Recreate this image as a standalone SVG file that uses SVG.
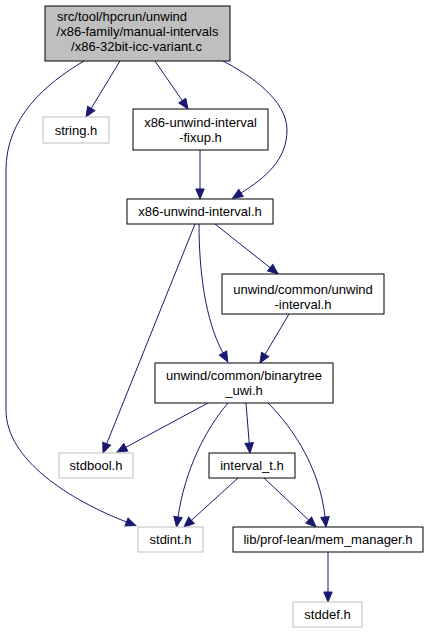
<svg xmlns="http://www.w3.org/2000/svg" width="429" height="633" viewBox="0 0 429 633">
<defs>
<marker id="ah" markerUnits="userSpaceOnUse" markerWidth="12" markerHeight="12" refX="0" refY="6" orient="auto" overflow="visible">
<path d="M0,1.8 L10,6 L0,10.2 Z" fill="#191970" stroke="#191970" stroke-width="1"/>
</marker>
<style>
.n rect{fill:#ffffff;stroke:#000000;stroke-width:1}
.g rect{fill:#ffffff;stroke:#bfbfbf;stroke-width:1}
.root rect{fill:#bfbfbf;stroke:#000000;stroke-width:1}
text{font-family:"Liberation Sans",Arial,sans-serif;font-size:13px;fill:#000000;text-anchor:middle}
#edges path{fill:none;stroke:#191970;stroke-width:1;marker-end:url(#ah)}
</style>
</defs>
<rect width="429" height="633" fill="#ffffff"/>
<g id="edges">
<path d="M84,61 C45,84 6,118 6,170 L6,410 C6,460 70,500 126.5,522"/>
<path d="M120,61 L91.2,108.4"/>
<path d="M155,61 L182.3,100.7"/>
<path d="M223,61 C250,75 287,100 287,130 C287,160 265,178 241,193"/>
<path d="M200,150 L200,189"/>
<path d="M215,224 L270.2,267.8"/>
<path d="M199,224 C199,270 205,320 223,353"/>
<path d="M195,224 L106.7,443.7"/>
<path d="M289,314 L265.1,354.4"/>
<path d="M208,403 L125.8,447.3"/>
<path d="M228,403 C205,430 185,470 178,517"/>
<path d="M246,403 L249.2,443"/>
<path d="M268,403 C295,430 320,470 325,517"/>
<path d="M238,478 L191.4,520.3"/>
<path d="M264,478 L308.7,520.1"/>
<path d="M328,552 L328,592"/>
</g>
<g id="node_root" class="root">
<rect x="45" y="6" width="185" height="55"/>
<text x="122" y="21">src/tool/hpcrun/unwind</text>
<text x="137.5" y="36">/x86-family/manual-intervals</text>
<text x="136.5" y="51">/x86-32bit-icc-variant.c</text>
</g>
<g id="node_string" class="g">
<rect x="43" y="117" width="66" height="26"/>
<text x="76" y="134.5">string.h</text>
</g>
<g id="node_fixup" class="n">
<rect x="133" y="109" width="135" height="41"/>
<text x="200.5" y="126.5">x86-unwind-interval</text>
<text x="200.5" y="141.5">-fixup.h</text>
</g>
<g id="node_x86uwi" class="n">
<rect x="127" y="199" width="146" height="25"/>
<text x="200" y="216">x86-unwind-interval.h</text>
</g>
<g id="node_uwi" class="n">
<rect x="222" y="274" width="162" height="40"/>
<text x="303" y="293.5">unwind/common/unwind</text>
<text x="303" y="308.5">-interval.h</text>
</g>
<g id="node_bt" class="n">
<rect x="155" y="363" width="178" height="40"/>
<text x="244" y="379.5">unwind/common/binarytree</text>
<text x="244" y="394.5">_uwi.h</text>
</g>
<g id="node_stdbool" class="g">
<rect x="59" y="453" width="74" height="25"/>
<text x="96" y="470">stdbool.h</text>
</g>
<g id="node_interval_t" class="n">
<rect x="209" y="453" width="86" height="25"/>
<text x="252" y="470">interval_t.h</text>
</g>
<g id="node_stdint" class="g">
<rect x="138" y="527" width="65" height="25"/>
<text x="170.5" y="544">stdint.h</text>
</g>
<g id="node_mem" class="n">
<rect x="233" y="527" width="190" height="25"/>
<text x="328" y="544">lib/prof-lean/mem_manager.h</text>
</g>
<g id="node_stddef" class="g">
<rect x="293" y="602" width="69" height="25"/>
<text x="327.5" y="619">stddef.h</text>
</g>
</svg>
